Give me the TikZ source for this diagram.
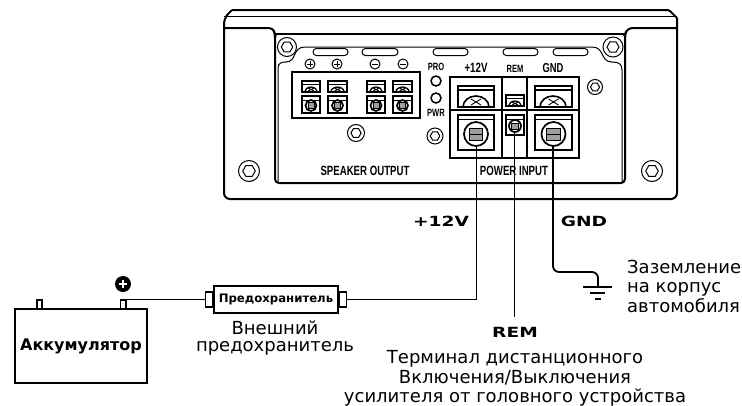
\documentclass[tikz,border=0pt]{standalone}
\usepackage{fontspec}
\setmainfont{DejaVu Sans}
\newfontfamily\narrowb[FakeStretch=0.72]{Liberation Sans Bold}
\newfontfamily\wideb[FakeStretch=1.33]{DejaVu Sans Bold}
\newfontfamily\regb{DejaVu Sans Bold}
\usetikzlibrary{calc}
\tikzset{
  thickln/.style={line width=2pt},
  medln/.style={line width=1.3pt},
  thinln/.style={line width=0.9pt},
  wire/.style={line width=1.8pt,rounded corners=6pt},
  paneltxt/.style={inner sep=0pt,font=\narrowb\fontsize{13.4}{15}\selectfont},
  smalltxt/.style={inner sep=0pt,font=\narrowb\fontsize{10.5}{12}\selectfont},
  bigtxt/.style={inner sep=0pt,font=\wideb\fontsize{14}{15}\selectfont},
  lbl/.style={inner sep=0pt,font=\fontsize{18}{20}\selectfont},
}
\newcommand{\myscrew}[3]{% x,y,r
  \draw[line width=1pt] (#1,#2) circle[radius=#3];
  \draw[line width=1pt] (#1,#2) ++(0:0.6*#3) -- ++(120:0.6*#3) -- ++(180:0.6*#3) -- ++(240:0.6*#3) -- ++(300:0.6*#3) -- ++(0:0.6*#3) -- cycle;
}
\newcommand{\mypill}[2]{% x1,x2 at y=52
  \draw[line width=1pt,rounded corners=3.4pt] (#1,48.5) rectangle (#2,55.5);
}
\newcommand{\smalltop}[4]{% x1,x2,y1,y2
  \draw[medln] (#1,#3) rectangle (#2,#4);
  \draw[thinln] (#1,{#3+3}) -- (#2,{#3+3});
  \draw[medln] ({#1+0.15*(#2-#1)},#4) arc[start angle=180,end angle=360,x radius={0.35*(#2-#1)},y radius={0.62*(#4-#3-3)}];
  \draw[thinln] ({(#1+#2)/2-3},{#4-4}) -- ({(#1+#2)/2+3},{#4-1}) ({(#1+#2)/2-3},{#4-1}) -- ({(#1+#2)/2+3},{#4-4});
}
\newcommand{\smallbot}[6]{% x1,x2,y1,y2,cy,r: socket with a plain inner square
  \draw[medln] (#1,#3) rectangle (#2,#4);
  \draw[thinln] (#1,{#3+4}) -- (#2,{#3+4});
  \draw[line width=1.7pt] ({(#1+#2)/2},#5) circle[radius=#6];
  \fill[gray!75] ({(#1+#2)/2-0.55*#6},{#5-0.5*#6}) rectangle ({(#1+#2)/2+0.55*#6},{#5+0.5*#6});
  \draw[thinln] ({(#1+#2)/2-0.55*#6},{#5-0.5*#6}) rectangle ({(#1+#2)/2+0.55*#6},{#5+0.5*#6});
}
\begin{document}
\begin{tikzpicture}[x=1pt,y=-1pt]
\useasboundingbox (0,0) rectangle (742,405);
% housing
\draw[thickln,rounded corners=1.5pt] (232,10) -- (669,10) -- (677,18);
\draw[thickln,rounded corners=6pt] (232,10) -- (224,18) -- (224,199) -- (677,199) -- (677,18);
\draw[line width=1pt] (224,16.5) -- (677,16.5);
\draw[thickln,rounded corners=4pt] (224,28) -- (273,28) -- (275,34) -- (275,183) -- (625,183) -- (625,34) -- (628,28) -- (677,28);
\draw[thickln] (275,33.5) -- (625,33.5);
% inner panel
\draw[line width=1pt] (278,183) -- (278,68) .. controls (278,63) and (282,62) .. (286,62) .. controls (297,62) and (292,47) .. (305,47) -- (592,47) .. controls (605,47) and (600,62) .. (612,62) .. controls (619,62) and (622,64) .. (622,70) -- (622,183);
% screws
\myscrew{287}{47}{9.5}
\myscrew{249}{171}{10.5}
\myscrew{613}{47}{10}
\myscrew{652}{171}{10.5}
\myscrew{356}{133}{8.5}
\myscrew{435}{136}{8}
\myscrew{595}{87}{7.5}
% pills
\mypill{313}{348}\mypill{362}{398}\mypill{433}{468}\mypill{503}{538}\mypill{553}{588}
% polarity marks
\foreach \x in {310,337}{
  \draw[line width=1pt] (\x,64) circle[radius=5];
  \draw[thinln] (\x-2.8,64) -- (\x+2.8,64) (\x,61.2) -- (\x,66.8);}
\foreach \x in {375,403}{
  \draw[line width=1pt] (\x,64) circle[radius=5];
  \draw[thinln] (\x-2.8,64) -- (\x+2.8,64);}
% speaker block
\draw[line width=1.1pt] (292,72) rectangle (420,118);
\foreach \a/\b in {302/320,328/347,367/385,393/412}{
  \smalltop{\a}{\b}{81}{92}
  \smallbot{\a}{\b}{96}{113}{105.5}{5.5}
}
% LEDs
\node[smalltxt] (pro) at (436,67) {PRO};
\draw[line width=1.5pt] (436,81) circle[radius=5];
\draw[line width=1.5pt] (436,98) circle[radius=5];
\node[smalltxt] (pwr) at (436,113) {PWR};
% texts
\node[paneltxt] (spk) at (365,171) {SPEAKER OUTPUT};
\node[paneltxt] (pin) at (514,171) {POWER INPUT};
\node[inner sep=0pt,font=\narrowb\fontsize{13.5}{15}\selectfont] (t12) at (476,68) {+12V};
\node[smalltxt] (trem) at (515,69) {REM};
\node[inner sep=0pt,font=\narrowb\fontsize{13}{15}\selectfont] (tgnd) at (553,68) {GND};
% power block
\draw[line width=1.1pt] (450,77) rectangle (579,158);
\draw[line width=1.1pt] (450,110) -- (579,110) (502,77) -- (502,158) (527,77) -- (527,158);
\foreach \a/\b in {458/494,535/572}{
  \draw[line width=1.6pt] (\a,86) rectangle (\b,107);
  \draw[medln] (\a,90) -- (\b,90);
  \draw[line width=1.6pt] (\a+5,107) arc[start angle=180,end angle=360,x radius=13,y radius=11];
  \draw[thinln] ({(\a+\b)/2-5},99) -- ({(\a+\b)/2+5},105) ({(\a+\b)/2-5},105) -- ({(\a+\b)/2+5},99);
  \smallbot{\a}{\b}{115}{150}{134}{12}
  \draw[thinln] ({(\a+\b)/2-6.6},134) -- ({(\a+\b)/2+6.6},134);
}
\smalltop{506}{524}{95}{106}
\smallbot{506}{524}{115}{135}{126}{6}
% named anchors for connections
\coordinate (tplus) at (476.5,146);
\coordinate (trm) at (514.5,132);
\coordinate (tgd) at (553,146);
\coordinate (plusterm) at (123,299.5);
% battery
\node[draw,line width=1.7pt,minimum width=132pt,minimum height=74pt,inner sep=0pt,font=\regb\fontsize{16}{18}\selectfont] (bat) at (81,346) {Аккумулятор};
\draw[line width=1.3pt] (37,300) rectangle (42,308.5);
\draw[line width=1.3pt] (120.5,300) rectangle (126,308.5);
\node[circle,fill=black,minimum size=16pt,inner sep=0pt] (plus) at (123,284) {};
\draw[white,line width=1.8pt] (119,284) -- (127,284) (123,280) -- (123,288);
% fuse
\node[draw,line width=1.6pt,fill=white,minimum width=124pt,minimum height=27pt,inner sep=0pt,font=\regb\fontsize{11.7}{13}\selectfont] (fuse) at (276,299.5) {Предохранитель};
\node[draw,line width=1.2pt,fill=white,minimum width=7pt,minimum height=15pt,inner sep=0pt,anchor=east] (capl) at (fuse.west) {};
\node[draw,line width=1.2pt,fill=white,minimum width=7pt,minimum height=15pt,inner sep=0pt,anchor=west] (capr) at (fuse.east) {};
% wires
\draw[wire] (plusterm) -- (capl.west);
\draw[wire,rounded corners=0pt] (tplus) |- (capr.east);
\coordinate (remend) at (514.5,317);
\draw[wire] (trm) -- (remend);
\coordinate (gndbar) at (598,287);
\coordinate (gndelbow) at (598,272);
\coordinate (gndknee) at (553,272);
\draw[wire] (tgd) -- (gndknee) -- (gndelbow) -- (gndbar);
\draw[line width=1.3pt] (583,287) -- (612,287);
\draw[line width=1.3pt] (590,293) -- (605,293);
\draw[line width=1.3pt] (595,299) -- (601,299);
% labels
\node[bigtxt] (l12) at (441,221) {+12V};
\node[bigtxt] (lg) at (584,221) {GND};
\node[bigtxt] (lr) at (515,332) {REM};
\node[lbl] (b1) at (275,328) {Внешний};
\node[lbl] (b2) at (275,348) {предохранитель};
\node[lbl,anchor=base west] (z1) at (627,273) {Заземление};
\node[lbl,anchor=base west] (z2) at (627,292.5) {на корпус};
\node[lbl,anchor=base west] (z3) at (627,312) {автомобиля};
\node[lbl,anchor=base] (r1) at (515,363) {Терминал дистанционного};
\node[lbl,anchor=base] (r2) at (515,383) {Включения/Выключения};
\node[lbl,anchor=base] (r3) at (515,402) {усилителя от головного устройства};
\end{tikzpicture}
\end{document}
